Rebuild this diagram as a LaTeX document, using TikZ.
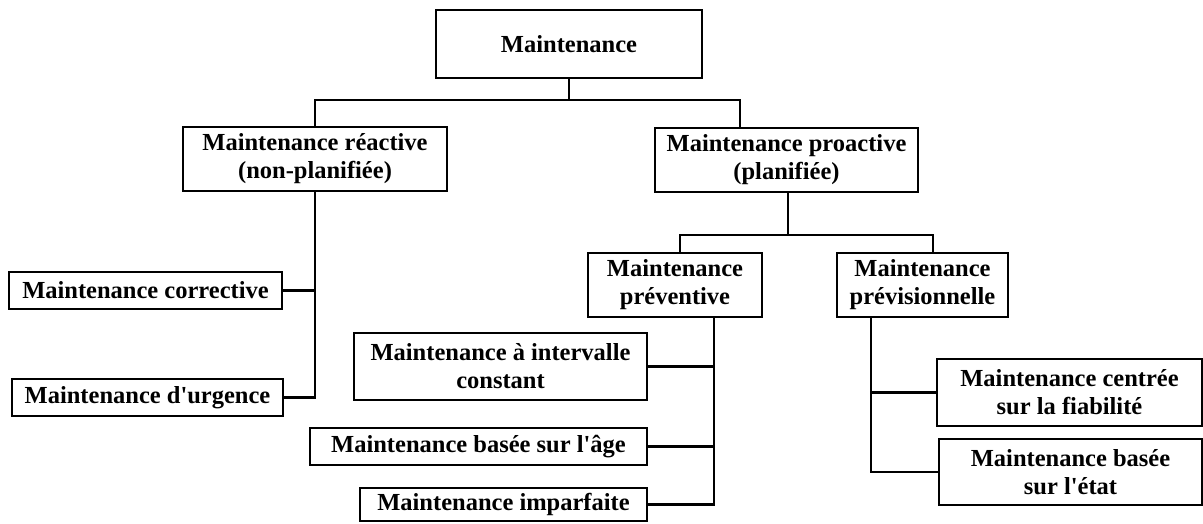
\documentclass[tikz,border=0pt]{standalone}
\usepackage{fontspec}
\newfontfamily\boxfont{Liberation Serif}
\begin{document}
\begin{tikzpicture}[x=1pt,y=-1pt,
  box/.style={draw=black,line width=2.2pt,rectangle,inner sep=0pt,align=center,
    font=\boxfont\fontsize{24.5}{28}\selectfont\bfseries},
  link/.style={draw=black,line width=2.2pt}]
\useasboundingbox (0,0) rectangle (1203,523);
% boxes
\node[box,minimum width=266,minimum height=68] (top) at (569,44) {Maintenance};
\node[box,minimum width=264,minimum height=64] (reac) at (315,159) {Maintenance réactive\\(non-planifiée)};
\node[box,minimum width=263,minimum height=64] (proa) at (786.5,160) {Maintenance proactive\\(planifiée)};
\node[box,minimum width=273,minimum height=37] (corr) at (145.5,290.5) {Maintenance corrective};
\node[box,minimum width=271,minimum height=37] (urg) at (147.5,397.5) {Maintenance d'urgence};
\node[box,minimum width=174,minimum height=64] (prev) at (675,285) {Maintenance\\préventive};
\node[box,minimum width=171,minimum height=64] (previs) at (922.5,285) {Maintenance\\prévisionnelle};
\node[box,minimum width=293,minimum height=67] (inter) at (500.5,366.5) {Maintenance à intervalle\\constant};
\node[box,minimum width=337,minimum height=37] (age) at (478.5,446.5) {Maintenance basée sur l'âge};
\node[box,minimum width=287,minimum height=33] (impa) at (503.5,504.5) {Maintenance imparfaite};
\node[box,minimum width=265,minimum height=67] (fiab) at (1069.5,392.5) {Maintenance centrée\\sur la fiabilité};
\node[box,minimum width=263,minimum height=66] (etat) at (1070.5,472) {Maintenance basée\\sur l'état};
% junction x-positions / levels
\coordinate (j1) at (569,100);
\coordinate (j1r) at (740,100);
\coordinate (j2) at (315,0);
\coordinate (j3) at (788,235);
\coordinate (j3l) at (680,235);
\coordinate (j3r) at (933,235);
\coordinate (j4) at (714,0);
\coordinate (j5) at (871,0);
% connectors
\draw[link] (top.south) -- (j1);
\draw[link] (reac.north) |- (j1r) -- (j1r |- proa.north);
\draw[link] (reac.south -| j2) |- (urg.east);
\draw[link] (corr.east) -- (corr.east -| j2);
\draw[link] (proa.south -| j3) -- (j3);
\draw[link] (j3l |- prev.north) |- (j3r) -- (j3r |- previs.north);
\draw[link] (prev.south -| j4) |- (impa.east);
\draw[link] (inter.east) -- (inter.east -| j4);
\draw[link] (age.east) -- (age.east -| j4);
\draw[link] (previs.south -| j5) |- (etat.west);
\draw[link] (fiab.west) -- (fiab.west -| j5);
\end{tikzpicture}
\end{document}
